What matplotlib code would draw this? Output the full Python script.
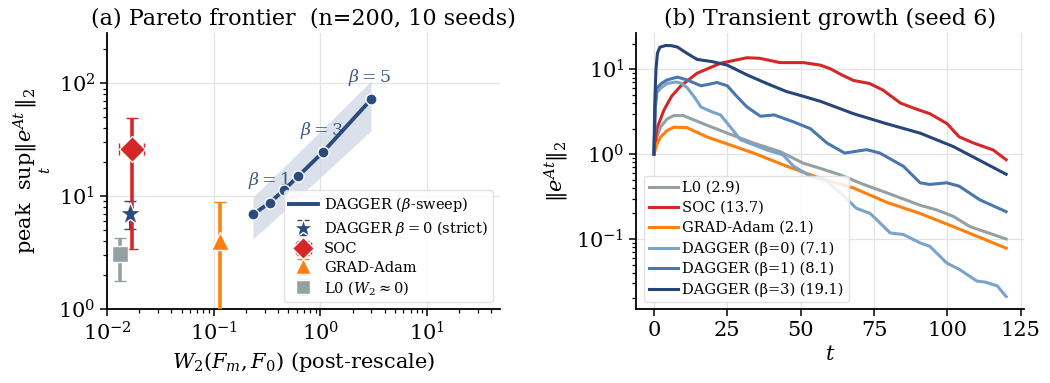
import matplotlib
matplotlib.use('Agg')
from matplotlib import pyplot as plt
import numpy as np

matplotlib.rcParams.update({'font.size': 15})
matplotlib.rc('font', family='DejaVu Serif')
matplotlib.rc('mathtext', fontset='dejavuserif')
matplotlib.rc('axes', linewidth=1.3)

navy = '#2b4a7d'
red = '#d62728'
orange = '#ff7f0e'
grey = '#95a0a2'
c_b0 = '#7ba3cc'
c_b1 = '#4a77ad'
c_b3 = '#26467a'

# ---- panel (a): Pareto frontier ----
sweep_w2 = [0.233, 0.337, 0.456, 0.617, 1.06, 2.98]
sweep_peak = [6.9, 8.8, 11.4, 15.0, 24.7, 72.0]
sweep_lo = [4.2, 5.7, 7.4, 9.7, 15.5, 38.0]
sweep_hi = [9.8, 13.8, 18.2, 24.2, 39.9, 105.0]
beta_labels = {1: r'$\beta=1$', 4: r'$\beta=3$', 5: r'$\beta=5$'}

strict_w2, strict_peak, strict_err = 0.0163, 6.9, (1.8, 2.1)
soc_w2, soc_peak, soc_err = 0.0173, 26.0, (22.6, 23.0)
soc_xerr = (0.0043, 0.0049)
adam_w2, adam_peak, adam_err = 0.115, 4.0, (3.6, 4.9)
l0_w2, l0_peak, l0_err = 0.0132, 3.07, (1.3, 1.23)

# ---- panel (b): transient growth curves ----
t_soc = [0, 1, 3.4, 6, 9, 14.7, 22.7, 31.7, 36, 43, 51, 56.7, 60, 64, 68, 73.5,
         78, 84, 88.4, 94, 99.8, 104, 109, 115.6, 120]
v_soc = [1.0, 2.0, 3.3, 4.8, 6.3, 9.0, 11.8, 13.7, 13.5, 12.0, 12.0, 11.2, 10.2,
         8.6, 7.4, 6.8, 5.7, 4.0, 3.5, 3.0, 2.3, 1.6, 1.35, 1.12, 0.86]
t_l0 = [0, 1, 2.3, 4.5, 6.8, 10, 18, 25, 34, 43, 51, 56.7, 63.5, 71.4, 79.4,
        90.7, 96.4, 102, 107.7, 120]
v_l0 = [1.0, 1.6, 2.1, 2.6, 2.85, 2.85, 2.2, 1.77, 1.35, 1.07, 0.78, 0.68, 0.57,
        0.44, 0.35, 0.25, 0.22, 0.185, 0.14, 0.10]
t_adam = [0, 1, 2.3, 4.5, 6.8, 11.3, 18, 25, 34, 45.3, 56.7, 68, 79.4, 90.7,
          102, 120]
v_adam = [1.0, 1.3, 1.6, 1.9, 2.08, 2.05, 1.6, 1.32, 1.03, 0.72, 0.52, 0.40,
          0.27, 0.20, 0.14, 0.078]
t_b0 = [0, 0.5, 1, 2.5, 4.5, 7.4, 9, 11.3, 14, 16, 19.3, 22.7, 26, 29.5, 34,
        38.5, 44, 47.6, 53.3, 59, 63.5, 69, 73.7, 80.5, 85, 90.7, 94, 99.8,
        104, 110, 113, 117, 120]
v_b0 = [1.0, 3.5, 5.3, 6.1, 6.8, 7.1, 6.9, 6.1, 4.6, 3.6, 3.2, 2.9, 2.1, 1.48,
        1.29, 1.12, 0.98, 0.72, 0.55, 0.48, 0.35, 0.23, 0.20, 0.118, 0.113,
        0.09, 0.082, 0.052, 0.044, 0.032, 0.031, 0.028, 0.021]
t_b1 = [0, 0.5, 1, 2.5, 4.5, 8, 11.3, 16, 19, 21.5, 25, 28, 31.7, 36.3, 41,
        47.6, 53.3, 59, 65, 68, 72.5, 77, 85, 90.7, 94, 99.8, 104, 111, 120]
v_b1 = [1.0, 3.8, 6.0, 6.8, 7.5, 8.1, 7.5, 6.4, 6.7, 7.0, 6.4, 4.9, 3.6, 2.8,
        2.9, 2.4, 2.0, 1.35, 1.03, 1.07, 1.13, 1.03, 0.72, 0.46, 0.44, 0.46,
        0.42, 0.29, 0.21]
t_b3 = [0, 0.3, 0.7, 1.2, 2, 4, 6, 8, 11.3, 14.7, 20, 25, 31.7, 38.5, 45, 51,
        56.7, 68, 79, 90.7, 102, 120]
v_b3 = [1.0, 4.0, 10.0, 15.5, 18.2, 19.1, 19.0, 18.3, 15.4, 13.1, 12.3, 11.2,
        8.6, 6.8, 5.5, 4.8, 4.2, 3.0, 2.3, 1.77, 1.23, 0.58]

curves = [
    ('L0 (2.9)', t_l0, v_l0, grey),
    ('SOC (13.7)', t_soc, v_soc, red),
    ('GRAD-Adam (2.1)', t_adam, v_adam, orange),
    ('DAGGER (β=0) (7.1)', t_b0, v_b0, c_b0),
    ('DAGGER (β=1) (8.1)', t_b1, v_b1, c_b1),
    ('DAGGER (β=3) (19.1)', t_b3, v_b3, c_b3),
]

fig = plt.figure(figsize=(10.5, 3.83), dpi=100)
ax1 = fig.add_axes([0.102, 0.193, 0.374, 0.721])
ax2 = fig.add_axes([0.606, 0.193, 0.369, 0.721])

for ax in (ax1, ax2):
    ax.spines['top'].set_visible(False)
    ax.spines['right'].set_visible(False)
    ax.grid(True, which='major', color='#e3e3e3', lw=0.9)
    ax.set_axisbelow(True)
    ax.tick_params(which='major', length=5, width=1.1)
    ax.tick_params(which='minor', length=3, width=0.9)

# panel (a)
ax1.set_xscale('log')
ax1.set_yscale('log')
ax1.fill_between(sweep_w2, sweep_lo, sweep_hi, color='#d3dae5', alpha=0.8,
                 lw=0)
ax1.plot(sweep_w2, sweep_peak, '-', color=navy, lw=2.8,
         label=r'DAGGER ($\beta$-sweep)', zorder=4)
ax1.plot(sweep_w2, sweep_peak, 'o', color=navy, ms=8, mec='white', mew=1.0,
         zorder=4)
for i, txt in beta_labels.items():
    ax1.annotate(txt, (sweep_w2[i], sweep_peak[i]), xytext=(-1, 8),
                 textcoords='offset points', ha='center', va='bottom',
                 fontsize=12.5, color='#3d5a88')

ax1.errorbar(strict_w2, strict_peak, yerr=[[strict_err[0]], [strict_err[1]]],
             fmt='*', color=navy, ms=17, mec='white', mew=1.0, elinewidth=2.2,
             capsize=4, capthick=1.8, label=r'DAGGER $\beta=0$ (strict)',
             zorder=5)
ax1.errorbar(soc_w2, soc_peak, yerr=[[soc_err[0]], [soc_err[1]]],
             xerr=[[soc_xerr[0]], [soc_xerr[1]]],
             fmt='D', color=red, ms=13, mec='white', mew=1.0, elinewidth=2.6,
             capsize=4, capthick=1.8, label='SOC', zorder=5)
ax1.errorbar(adam_w2, adam_peak, yerr=[[adam_err[0]], [adam_err[1]]],
             fmt='^', color=orange, ms=13, mec='white', mew=1.0,
             elinewidth=2.6, capsize=4, capthick=1.8, label='GRAD-Adam',
             zorder=5)
ax1.errorbar(l0_w2, l0_peak, yerr=[[l0_err[0]], [l0_err[1]]],
             fmt='s', color=grey, ms=12, mec='white', mew=1.0,
             elinewidth=2.6, capsize=4, capthick=1.8,
             label=r'L0 ($W_2\approx 0$)', zorder=5)

ax1.set_xlim(0.01, 48)
ax1.set_ylim(1, 280)
ax1.set_xlabel(r'$W_2(F_m, F_0)$ (post-rescale)', fontsize=15)
ax1.set_ylabel(r'peak  $\sup_t\|e^{At}\|_2$', fontsize=15)
ax1.set_title('(a) Pareto frontier  (n=200, 10 seeds)', fontsize=16)
ax1.legend(loc='lower right', fontsize=10.5, framealpha=0.85,
           handlelength=2.0, borderpad=0.35, labelspacing=0.3,
           handletextpad=0.4, edgecolor='#dddddd', fancybox=True,
           markerscale=0.85)

# panel (b)
for name, t, v, c in curves:
    ax2.plot(t, v, color=c, lw=2.2, label=name)
ax2.set_yscale('log')
ax2.set_xticks([0, 25, 50, 75, 100, 125])
ax2.set_xlabel('$t$', fontsize=15)
ax2.set_ylabel(r'$\|e^{At}\|_2$', fontsize=15)
ax2.set_title('(b) Transient growth (seed 6)', fontsize=16)
ax2.legend(loc='lower left', fontsize=10.5, framealpha=0.85,
           handlelength=2.0, borderpad=0.35, labelspacing=0.42,
           handletextpad=0.3, edgecolor='#dddddd', fancybox=True)

plt.savefig('out.png', dpi=100)
